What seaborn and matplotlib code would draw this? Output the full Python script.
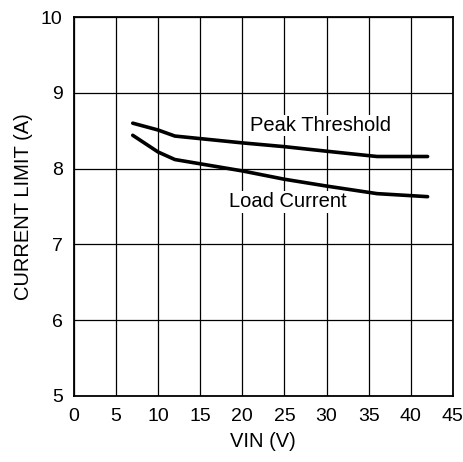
import matplotlib
matplotlib.use('Agg')
import matplotlib.pyplot as plt
import pandas as pd
import seaborn as sns

# values
vin_peak = [7, 10, 12, 20, 25, 30, 36, 42]
peak_threshold = [8.60, 8.51, 8.43, 8.34, 8.29, 8.23, 8.16, 8.16]

vin_load = [7, 10, 12, 20, 25, 30, 36, 42]
load_current = [8.44, 8.22, 8.12, 7.97, 7.86, 7.77, 7.67, 7.63]

x_ticks = [0, 5, 10, 15, 20, 25, 30, 35, 40, 45]
y_ticks = [5, 6, 7, 8, 9, 10]

sns.set_style('white')
plt.rcParams['font.family'] = ['Liberation Sans', 'DejaVu Sans']
plt.rcParams['text.color'] = 'black'
plt.rcParams['axes.labelcolor'] = 'black'

df = pd.concat([
    pd.DataFrame({'vin': vin_peak, 'current': peak_threshold, 'curve': 'Peak Threshold'}),
    pd.DataFrame({'vin': vin_load, 'current': load_current, 'curve': 'Load Current'}),
])

fig = plt.figure(figsize=(4.64, 4.62), dpi=100)
ax = fig.add_axes([0.159, 0.143, 0.817, 0.820])

sns.lineplot(data=df, x='vin', y='current', units='curve', estimator=None,
             color='black', linewidth=2.6, ax=ax, legend=False)

ax.set_xlim(0, 45)
ax.set_ylim(5, 10)
ax.set_xticks(x_ticks)
ax.set_yticks(y_ticks)
ax.grid(True, color='black', linewidth=0.9)
for s in ax.spines.values():
    s.set_color('black')
    s.set_linewidth(1.3)
ax.tick_params(length=0, labelsize=14, colors='black')
ax.tick_params(axis='x', pad=9)
ax.tick_params(axis='y', pad=8)

box = dict(facecolor='white', edgecolor='none', pad=1)
ax.text(29.3, 8.57, 'Peak Threshold', ha='center', va='center', fontsize=14.5, bbox=box)
ax.text(25.4, 7.56, 'Load Current', ha='center', va='center', fontsize=14.5, bbox=box)

ax.set_xlabel('VIN (V)', fontsize=14.5, labelpad=5)
ax.set_ylabel('CURRENT LIMIT (A)', fontsize=14.5, labelpad=6)

fig.savefig('out.png', dpi=100)
